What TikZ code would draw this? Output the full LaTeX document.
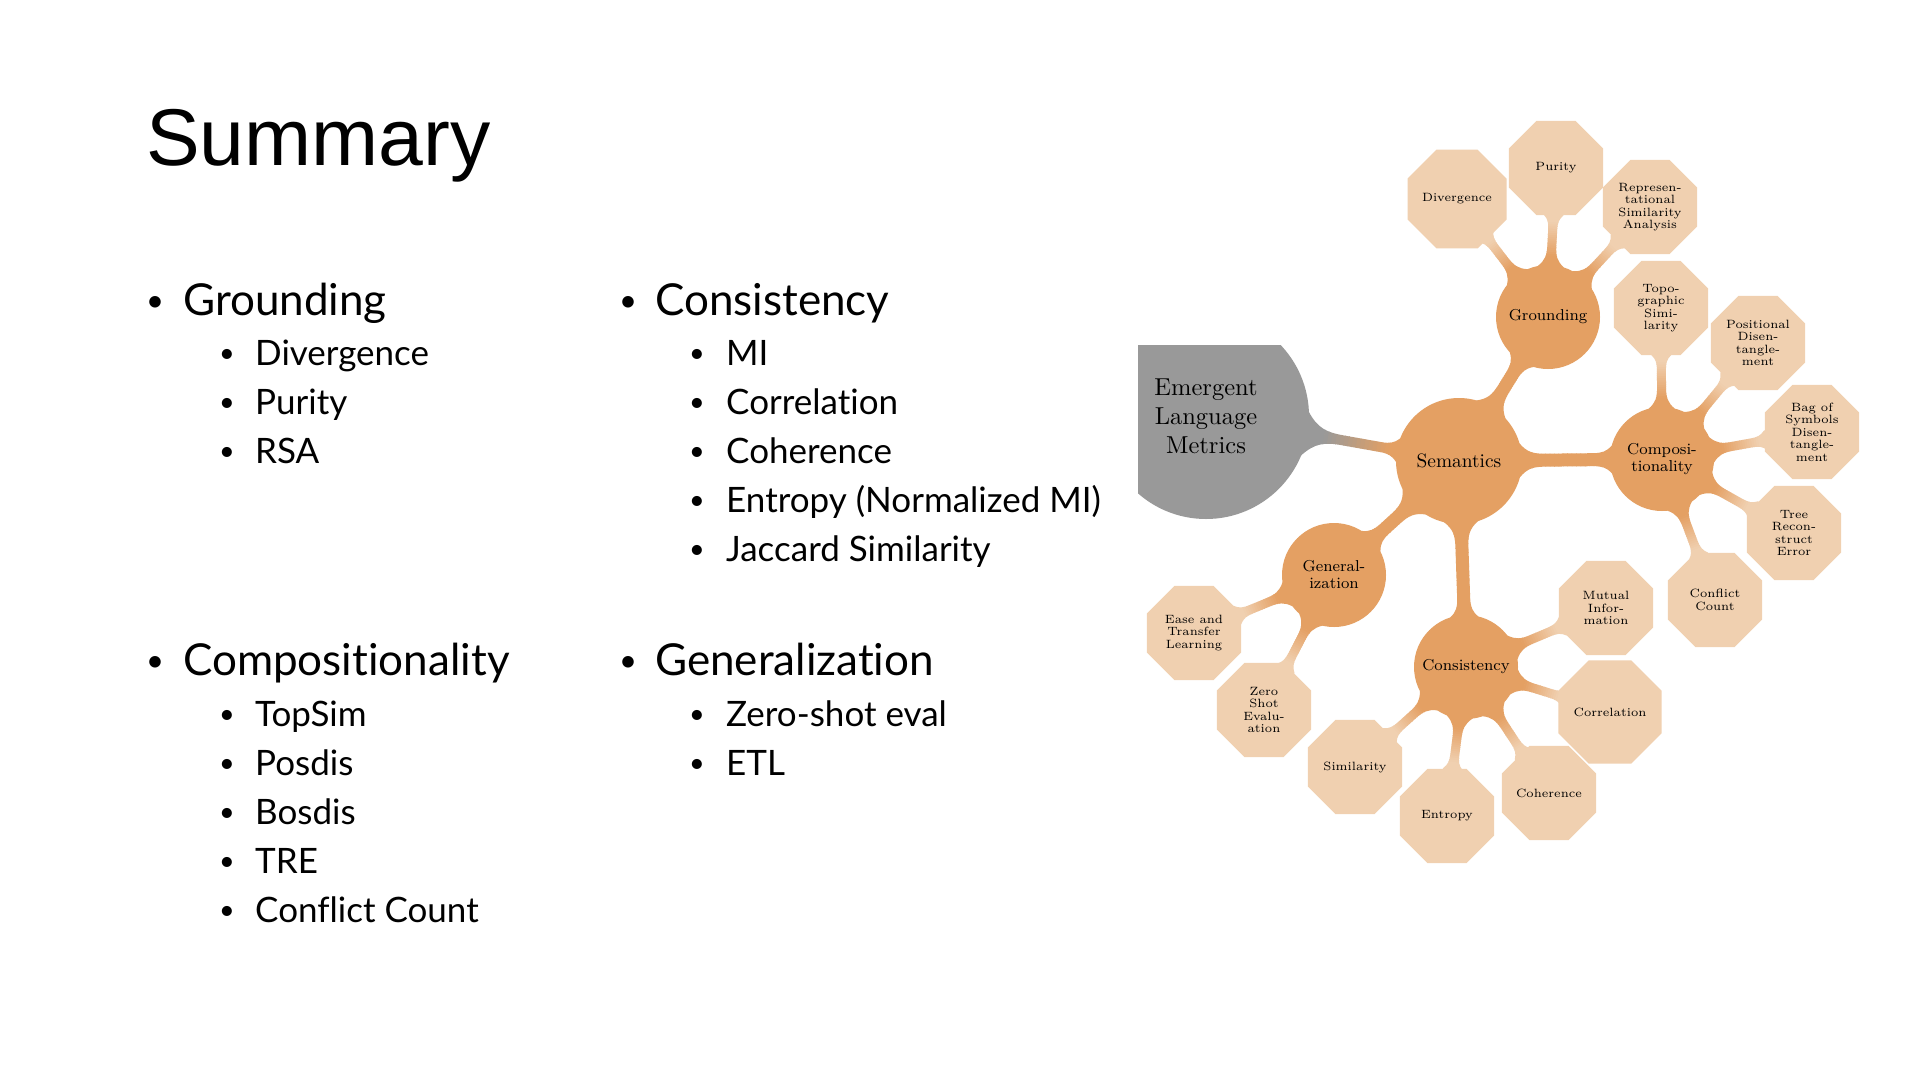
\documentclass[tikz,border=0pt]{standalone}
\usepackage{fontspec}
\setmainfont{Lato}[Ligatures=NoCommon]
\newfontfamily\titlefont{Liberation Sans}
\newfontfamily\lmten{lmroman10-regular.otf}
\newfontfamily\lmeight{lmroman8-regular.otf}
\newfontfamily\lmsix{lmroman6-regular.otf}
\usetikzlibrary{shapes.geometric}
\definecolor{mmorange}{HTML}{E4A063}
\definecolor{mmlight}{HTML}{F0D0B0}
\definecolor{mmgray}{HTML}{999999}
\pgfdeclarelayer{back}
\pgfdeclarelayer{bars}
\pgfsetlayers{back,bars,main}
% #1 parent, #2 child, #3 parent radius, #4 child radius, #5 half width,
% #6 parent flare half width, #7 child flare half width, #8 parent colour, #9 child colour
\newcommand\mmconn[9]{%
  \pgfpointanchor{#1}{center}\pgfgetlastxy{\mmxa}{\mmya}%
  \pgfpointanchor{#2}{center}\pgfgetlastxy{\mmxb}{\mmyb}%
  \pgfmathsetmacro\mmang{atan2((\mmyb)-(\mmya),(\mmxb)-(\mmxa))}%
  \pgfmathsetmacro\mmlen{veclen((\mmxb)-(\mmxa),(\mmyb)-(\mmya))}%
  \pgfmathsetmacro\mmh{#5}%
  \pgfmathsetmacro\mmHp{#6}%
  \pgfmathsetmacro\mmHc{#7}%
  \pgfmathsetmacro\mmfp{2*(\mmHp-\mmh)+4}%
  \pgfmathsetmacro\mmfc{2*(\mmHc-\mmh)+4}%
  \pgfmathsetmacro\mmpa{sqrt((#3)*(#3)-\mmHp*\mmHp)}%
  \pgfmathsetmacro\mmca{\mmlen-sqrt((#4)*(#4)-\mmHc*\mmHc)}%
  \pgfmathsetmacro\mmpb{\mmpa+\mmfp}%
  \pgfmathsetmacro\mmcb{\mmca-\mmfc}%
  \pgfmathsetmacro\mmga{\mmpa+0.5*\mmfp}%
  \pgfmathsetmacro\mmgb{\mmca-0.5*\mmfc}%
  \begin{scope}[shift={(\mmxa,\mmya)}, rotate=\mmang, x=1pt, y=1pt]
    \clip (\mmpa-12,\mmHp) -- (\mmpa,\mmHp)
      .. controls (\mmpa+0.3*\mmfp, \mmh+0.15*\mmHp-0.15*\mmh) and (\mmpa+0.55*\mmfp,\mmh) .. (\mmpb,\mmh)
      -- (\mmcb,\mmh)
      .. controls (\mmca-0.55*\mmfc,\mmh) and (\mmca-0.3*\mmfc, \mmh+0.15*\mmHc-0.15*\mmh) .. (\mmca,\mmHc)
      -- (\mmca+12,\mmHc) -- (\mmca+12,-\mmHc) -- (\mmca,-\mmHc)
      .. controls (\mmca-0.3*\mmfc, -\mmh-0.15*\mmHc+0.15*\mmh) and (\mmca-0.55*\mmfc,-\mmh) .. (\mmcb,-\mmh)
      -- (\mmpb,-\mmh)
      .. controls (\mmpa+0.55*\mmfp,-\mmh) and (\mmpa+0.3*\mmfp, -\mmh-0.15*\mmHp+0.15*\mmh) .. (\mmpa,-\mmHp)
      -- (\mmpa-12,-\mmHp) -- cycle;
    \fill[#8] (\mmpa-14,-30) rectangle (\mmga+0.5,30);
    \foreach \i in {0,...,15} {
      \pgfmathsetmacro\mmxs{\mmga+(\mmgb-\mmga)*\i/16}
      \pgfmathsetmacro\mmxe{\mmga+(\mmgb-\mmga)*(\i+1)/16+0.6}
      \pgfmathtruncatemacro\mmpct{100*(\i+0.5)/16}
      \fill[#9!\mmpct!#8] (\mmxs,-30) rectangle (\mmxe,30);
    }
    \fill[#9] (\mmgb,-30) rectangle (\mmca+14,30);
  \end{scope}}
\tikzset{
  ttl/.style={anchor=base west, inner sep=0pt, font=\titlefont\fontsize{80.5}{90}\selectfont},
  lone/.style={anchor=base west, inner sep=0pt, font=\fontsize{44}{50}\selectfont},
  ltwo/.style={anchor=base west, inner sep=0pt, font=\fontsize{35}{42}\selectfont},
  bone/.style={anchor=base, inner sep=0pt, font=\fontsize{31}{36}\selectfont},
  btwo/.style={anchor=base, inner sep=0pt, font=\fontsize{27}{32}\selectfont},
  rootc/.style={circle, fill=mmgray, minimum size=206pt, inner sep=0pt, align=center, text=black,
    font=\lmten\fontsize{24.5}{29}\selectfont},
  semc/.style={circle, fill=mmorange, minimum size=126pt, inner sep=0pt, align=center, text=black,
    font=\lmten\fontsize{19.4}{22}\selectfont},
  midc/.style={circle, fill=mmorange, minimum size=104pt, inner sep=0pt, align=center, text=black,
    font=\lmeight\fontsize{15.8}{17}\selectfont},
  leaf/.style={regular polygon, regular polygon sides=8, minimum size=102pt, fill=mmlight,
    inner sep=0pt, align=center, text=black, font=\lmsix\fontsize{12}{12.5}\selectfont}
}
\begin{document}
\begin{tikzpicture}[x=1pt, y=-1pt]
\begin{pgfonlayer}{back}
  \fill[white] (0,0) rectangle (1920,1080);
\end{pgfonlayer}
\useasboundingbox (0,0) rectangle (1920,1080);

% title
\node[ttl] (title) at (146,165) {Summary};

% column 1
\node[bone] (bg1) at (155,311) {•};
\node[lone] (tg1) at (183,315) {Grounding};
\node[btwo] (bg2) at (227,362) {•};
\node[ltwo] (tg2) at (255,365) {Divergence};
\node[btwo] (bg3) at (227,411) {•};
\node[ltwo] (tg3) at (255,414) {Purity};
\node[btwo] (bg4) at (227,460) {•};
\node[ltwo] (tg4) at (255,463) {RSA};

\node[bone] (bc1) at (155,671) {•};
\node[lone] (tc1) at (183,675) {Compositionality};
\node[btwo] (bc2) at (227,723) {•};
\node[ltwo] (tc2) at (255,726) {TopSim};
\node[btwo] (bc3) at (227,772) {•};
\node[ltwo] (tc3) at (255,775) {Posdis};
\node[btwo] (bc4) at (227,821) {•};
\node[ltwo] (tc4) at (255,824) {Bosdis};
\node[btwo] (bc5) at (227,870) {•};
\node[ltwo] (tc5) at (255,873) {TRE};
\node[btwo] (bc6) at (227,919) {•};
\node[ltwo] (tc6) at (255,922) {Conflict Count};

% column 2
\node[bone] (bs1) at (628,311) {•};
\node[lone] (ts1) at (655,315) {Consistency};
\node[btwo] (bs2) at (697,362) {•};
\node[ltwo] (ts2) at (726,365) {MI};
\node[btwo] (bs3) at (697,411) {•};
\node[ltwo] (ts3) at (726,414) {Correlation};
\node[btwo] (bs4) at (697,460) {•};
\node[ltwo] (ts4) at (726,463) {Coherence};
\node[btwo] (bs5) at (697,509) {•};
\node[ltwo] (ts5) at (726,512) {Entropy (Normalized MI)};
\node[btwo] (bs6) at (697,558) {•};
\node[ltwo] (ts6) at (726,561) {Jaccard Similarity};

\node[bone] (bz1) at (628,671) {•};
\node[lone] (tz1) at (655,675) {Generalization};
\node[btwo] (bz2) at (697,723) {•};
\node[ltwo] (tz2) at (726,726) {Zero-shot eval};
\node[btwo] (bz3) at (697,772) {•};
\node[ltwo] (tz3) at (726,775) {ETL};

% mind map
\begin{scope}
  \clip (1138,345) rectangle (1330,540);
  \node[rootc] (root) at (1206,416) {Emergent\\Language\\Metrics};
\end{scope}
\node[semc] (sem) at (1459,461) {Semantics};
\node[midc] (grd) at (1548,317) {Grounding};
\node[midc] (cmp) at (1662,459) {Composi-\\tionality};
\node[midc] (gen) at (1334,575) {General-\\ization};
\node[midc] (con) at (1466,667) {Consistency};

\node[leaf] (div) at (1457,199) {Divergence};
\node[leaf] (pur) at (1556,168) {Purity};
\node[leaf] (rsa) at (1650,207) {Represen-\\tational\\Similarity\\Analysis};

\node[leaf] (top) at (1661,308) {Topo-\\graphic\\Simi-\\larity};
\node[leaf] (pos) at (1758,343) {Positional\\Disen-\\tangle-\\ment};
\node[leaf] (bag) at (1812,432) {Bag of\\Symbols\\Disen-\\tangle-\\ment};
\node[leaf] (tre) at (1794,533) {Tree\\Recon-\\struct\\Error};
\node[leaf] (cfc) at (1715,600) {Conflict\\Count};

\node[leaf] (mut) at (1606,608) {Mutual\\Infor-\\mation};
\node[leaf] (cor) at (1610,712) {Correlation};
\node[leaf] (coh) at (1549,793) {Coherence};
\node[leaf] (ent) at (1447,816) {Entropy};
\node[leaf] (sim) at (1355,767) {Similarity};

\node[leaf] (etl) at (1194,633) {Ease and\\Transfer\\Learning};
\node[leaf] (zse) at (1264,710) {Zero\\Shot\\Evalu-\\ation};

\begin{pgfonlayer}{bars}
  \mmconn{root}{sem}{103}{63}{5}{22}{12}{mmgray}{mmorange}
  \mmconn{sem}{grd}{63}{52}{6.5}{17}{14}{mmorange}{mmorange}
  \mmconn{sem}{cmp}{63}{52}{6.5}{17}{14}{mmorange}{mmorange}
  \mmconn{sem}{gen}{63}{52}{6.5}{17}{14}{mmorange}{mmorange}
  \mmconn{sem}{con}{63}{52}{6.5}{17}{14}{mmorange}{mmorange}
  \mmconn{grd}{div}{52}{48}{4.5}{13}{10}{mmorange}{mmlight}
  \mmconn{grd}{pur}{52}{48}{4.5}{13}{10}{mmorange}{mmlight}
  \mmconn{grd}{rsa}{52}{48}{4.5}{13}{10}{mmorange}{mmlight}
  \mmconn{cmp}{top}{52}{48}{4.5}{13}{10}{mmorange}{mmlight}
  \mmconn{cmp}{pos}{52}{48}{4.5}{13}{10}{mmorange}{mmlight}
  \mmconn{cmp}{bag}{52}{48}{4.5}{13}{10}{mmorange}{mmlight}
  \mmconn{cmp}{tre}{52}{48}{4.5}{13}{10}{mmorange}{mmlight}
  \mmconn{cmp}{cfc}{52}{48}{4.5}{13}{10}{mmorange}{mmlight}
  \mmconn{con}{mut}{52}{48}{4.5}{13}{10}{mmorange}{mmlight}
  \mmconn{con}{cor}{52}{48}{4.5}{13}{10}{mmorange}{mmlight}
  \mmconn{con}{coh}{52}{48}{4.5}{13}{10}{mmorange}{mmlight}
  \mmconn{con}{ent}{52}{48}{4.5}{13}{10}{mmorange}{mmlight}
  \mmconn{con}{sim}{52}{48}{4.5}{13}{10}{mmorange}{mmlight}
  \mmconn{gen}{etl}{52}{48}{4.5}{13}{10}{mmorange}{mmlight}
  \mmconn{gen}{zse}{52}{48}{4.5}{13}{10}{mmorange}{mmlight}
\end{pgfonlayer}
\end{tikzpicture}
\end{document}
